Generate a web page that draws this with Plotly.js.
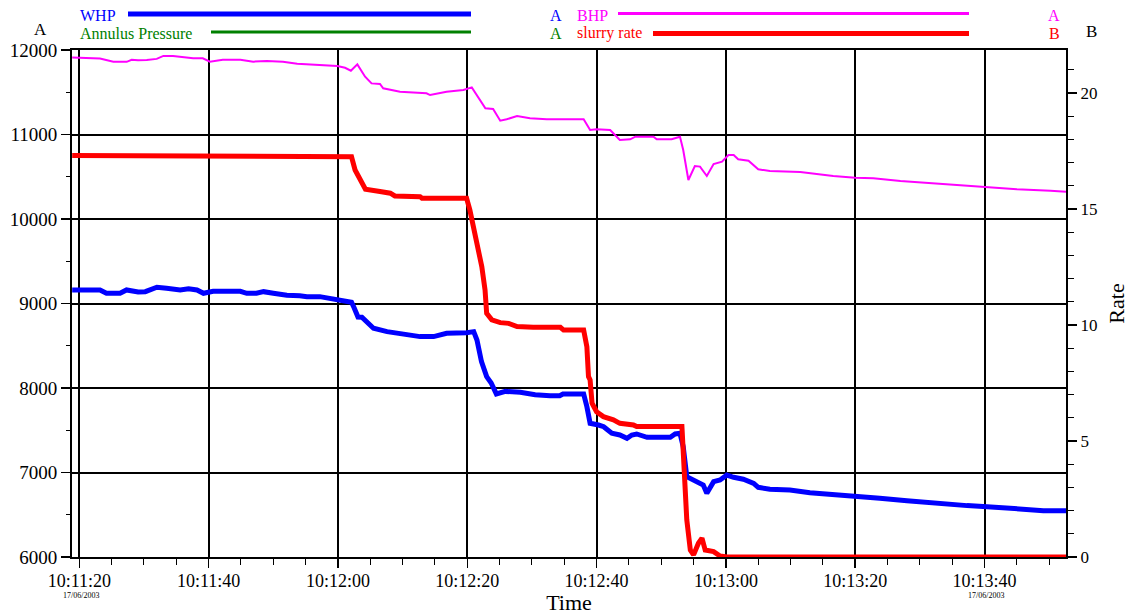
<!DOCTYPE html>
<html>
<head>
<meta charset="utf-8">
<script src="https://cdn.plot.ly/plotly-3.0.1.min.js"></script>
<style>
  html, body { margin: 0; padding: 0; background: #fff; }
  #chart { width: 1130px; height: 615px; }
</style>
</head>
<body>
<div id="chart"></div>
<script>
// Job date and the clock origin for the elapsed-second columns below
const jobDate = '2003-06-17';
const baseHour = 10, baseMinute = 11;

// WHP (psi, axis A): seconds after 10:11:00 and pressure
const whpSec = [18.9, 23.2, 24.2, 26.3, 27.3, 29.1, 30.2, 32.0, 33.5, 35.6, 36.9, 38.2, 39.2, 40.7, 44.9, 45.9, 47.4, 48.5, 50.0, 52.1, 54.1, 55.2, 57.2, 58.3, 59.8, 60.8, 62.1, 62.5, 63.1, 63.7, 65.5, 67.6, 69.6, 72.7, 74.8, 76.8, 79.9, 81.0, 81.5, 82.2, 83.0, 83.7, 84.5, 85.9, 88.2, 90.5, 92.8, 94.3, 94.8, 98.0, 98.5, 99.0, 100.3, 101.1, 102.35, 103.6, 104.7, 105.45, 106.2, 107.8, 111.4, 112.15, 112.9, 113.4, 113.95, 115.5, 116.5, 117.05, 118.1, 119.1, 120.15, 121.2, 122.7, 124.3, 125.0, 126.8, 129.9, 133.0, 136.6, 140.0, 143.8, 148.0, 152.1, 157.3, 160.4, 165.0, 169.1, 172.6];
const whpVal = [9160, 9160, 9121, 9121, 9160, 9136, 9140, 9192, 9180, 9160, 9175, 9160, 9121, 9144, 9144, 9121, 9121, 9140, 9121, 9097, 9092, 9081, 9081, 9065, 9042, 9022, 9015, 8950, 8840, 8837, 8707, 8667, 8647, 8608, 8608, 8647, 8655, 8667, 8568, 8312, 8134, 8060, 7930, 7960, 7950, 7920, 7909, 7909, 7929, 7929, 7779, 7582, 7562, 7542, 7464, 7444, 7405, 7444, 7456, 7417, 7417, 7456, 7464, 7306, 6951, 6892, 6852, 6754, 6892, 6911, 6970, 6943, 6920, 6872, 6825, 6801, 6793, 6761, 6742, 6714, 6695, 6667, 6636, 6608, 6596, 6568, 6548, 6548];

// BHP (psi, axis A)
const bhpSec = [18.9, 23.2, 25.26, 27.33, 28.1, 29.08, 30.43, 31.97, 33.0, 34.5, 37.6, 39.1, 40.2, 42.2, 44.9, 46.9, 49.0, 51.5, 53.7, 56.8, 59.9, 61.1, 62.0, 63.0, 64.2, 65.2, 66.5, 67.0, 69.6, 73.7, 74.25, 76.8, 79.4, 80.7, 81.5, 82.8, 84.0, 85.1, 86.1, 87.7, 89.7, 92.3, 98.0, 99.0, 100.0, 102.1, 103.6, 105.2, 106.0, 108.8, 109.3, 111.6, 112.9, 113.4, 114.2, 115.2, 116.0, 117.05, 118.1, 119.4, 120.4, 121.2, 121.9, 123.5, 125.0, 126.8, 131.5, 136.6, 140.0, 142.8, 147.0, 152.1, 157.3, 160.1, 165.0, 170.2, 172.6];
const bhpVal = [11910, 11900, 11860, 11860, 11885, 11878, 11882, 11895, 11930, 11930, 11902, 11902, 11862, 11885, 11885, 11862, 11870, 11862, 11838, 11822, 11810, 11790, 11755, 11830, 11684, 11605, 11598, 11547, 11507, 11487, 11467, 11507, 11527, 11558, 11467, 11310, 11302, 11163, 11180, 11219, 11192, 11180, 11180, 11053, 11061, 11053, 10935, 10943, 10974, 10974, 10943, 10943, 10974, 10817, 10462, 10627, 10620, 10509, 10651, 10678, 10757, 10757, 10706, 10690, 10588, 10568, 10556, 10509, 10489, 10482, 10450, 10423, 10391, 10375, 10352, 10335, 10323];

// Slurry rate (axis B)
const rateSec = [18.9, 61.1, 62.1, 62.65, 63.5, 64.25, 66.5, 68.1, 68.8, 72.7, 73.0, 79.9, 80.4, 80.95, 81.7, 82.25, 82.75, 83.0, 83.8, 85.1, 86.4, 87.7, 90.2, 94.4, 94.9, 98.0, 98.5, 98.75, 99.0, 99.3, 100.0, 101.05, 102.6, 103.6, 105.7, 106.2, 113.2, 113.4, 113.7, 113.95, 114.5, 115.0, 115.75, 116.3, 116.8, 118.1, 119.1, 120.2, 172.6];
const rateVal = [17.3, 17.28, 17.25, 16.68, 16.18, 15.85, 15.75, 15.68, 15.56, 15.53, 15.46, 15.46, 14.96, 14.24, 13.37, 12.51, 11.51, 10.5, 10.22, 10.1, 10.07, 9.93, 9.9, 9.9, 9.78, 9.78, 9.06, 7.77, 7.63, 6.63, 6.26, 6.05, 5.91, 5.76, 5.69, 5.62, 5.62, 4.75, 3.32, 1.6, 0.3, 0.09, 0.59, 0.81, 0.3, 0.23, 0.04, 0, 0];

// Axis extents
const timeStartSec = 18.87, timeEndSec = 172.6;
const pressureRange = [6000, 12000];
const rateRange = [0, 21.85];

function pad(n, w) { let s = String(n); while (s.length < w) s = '0' + s; return s; }
function stamp(sec) {
  const m = baseMinute + Math.floor(sec / 60);
  const s = sec - 60 * Math.floor(sec / 60);
  const whole = Math.floor(s);
  const frac = Math.round((s - whole) * 1000);
  return jobDate + ' ' + pad(baseHour, 2) + ':' + pad(m, 2) + ':' + pad(whole, 2) + '.' + pad(frac, 3);
}

const serif = 'Liberation Serif, Times New Roman, serif';

const traces = [
  { x: bhpSec.map(stamp), y: bhpVal, type: 'scatter', mode: 'lines', name: 'BHP',
    line: { color: '#ff00ff', width: 2 }, yaxis: 'y' },
  { x: whpSec.map(stamp), y: whpVal, type: 'scatter', mode: 'lines', name: 'WHP',
    line: { color: '#0000ff', width: 5 }, yaxis: 'y' },
  { x: rateSec.map(stamp), y: rateVal, type: 'scatter', mode: 'lines', name: 'slurry rate',
    line: { color: '#ff0000', width: 5 }, yaxis: 'y2' }
];

// Header key: text labels plus sample strokes
function label(text, x, y, color, size, anchor) {
  return { text: text, x: x, y: y, xref: 'paper', yref: 'paper', xanchor: anchor || 'left', yanchor: 'middle',
           showarrow: false, font: { family: serif, size: size || 16, color: color } };
}
// paper coordinates: plot spans x 72..1066 px and y 50..557 px
const px = v => (v - 72) / (1066 - 72);
const py = v => (557 - v) / (557 - 50);

const annotations = [
  label('WHP', px(78), py(15), '#0000ff'),
  label('Annulus Pressure', px(78), py(33), '#008000'),
  label('A', px(556), py(15), '#0000ff', 16, 'center'),
  label('A', px(556), py(33), '#008000', 16, 'center'),
  label('BHP', px(575), py(15), '#ff00ff'),
  label('slurry rate', px(575), py(33), '#ff0000'),
  label('A', px(1054), py(15), '#ff00ff', 16, 'center'),
  label('B', px(1054), py(33), '#ff0000', 16, 'center'),
  label('A', px(40), py(29), '#000000', 17, 'center'),
  label('B', px(1091), py(31), '#000000', 17, 'center'),
  label('17/06/2003', px(81), py(595), '#000000', 8, 'center'),
  label('17/06/2003', px(986), py(595), '#000000', 8, 'center')
];

function stroke(x0, x1, y, color, w) {
  return { type: 'line', xref: 'paper', yref: 'paper', x0: px(x0), x1: px(x1), y0: py(y), y1: py(y),
           line: { color: color, width: w } };
}
const shapes = [
  stroke(128, 471, 14, '#0000ff', 5),
  stroke(211, 471, 32, '#008000', 3),
  stroke(618, 969, 13.5, '#ff00ff', 3),
  stroke(653, 969, 33.5, '#ff0000', 5)
];

const layout = {
  width: 1130, height: 615,
  margin: { l: 72, r: 64, t: 50, b: 58 },
  paper_bgcolor: '#ffffff', plot_bgcolor: '#ffffff',
  showlegend: false,
  font: { family: serif, size: 18, color: '#000' },
  xaxis: {
    type: 'date',
    range: [stamp(timeStartSec), stamp(timeEndSec)],
    tick0: jobDate + ' 10:11:20', dtick: 20000, tickformat: '%H:%M:%S',
    ticks: 'outside', ticklen: 9, tickwidth: 1.5, tickcolor: '#000',
    ticklabelstandoff: -3,
    minor: { dtick: 5000, ticks: 'outside', ticklen: 6, tickwidth: 1, tickcolor: '#000', showgrid: false },
    showgrid: true, gridcolor: '#000', gridwidth: 2,
    showline: true, linecolor: '#000', linewidth: 2, mirror: true,
    zeroline: false,
    tickfont: { family: serif, size: 18 },
    title: { text: 'Time', font: { family: serif, size: 22 }, standoff: 11 }
  },
  yaxis: {
    range: pressureRange, dtick: 1000, tick0: 6000, tickformat: 'd',
    ticks: 'outside', ticklen: 9, tickwidth: 1.5, tickcolor: '#000',
    minor: { dtick: 500, ticks: 'outside', ticklen: 4, tickwidth: 1, tickcolor: '#000', showgrid: false },
    showgrid: true, gridcolor: '#000', gridwidth: 2,
    showline: true, linecolor: '#000', linewidth: 2,
    zeroline: false,
    tickfont: { family: serif, size: 19 }
  },
  yaxis2: {
    overlaying: 'y', side: 'right',
    range: rateRange, dtick: 5, tick0: 0,
    ticks: 'outside', ticklen: 9, tickwidth: 1.5, tickcolor: '#000',
    minor: { dtick: 1, ticks: 'outside', ticklen: 6, tickwidth: 1, tickcolor: '#000', showgrid: false },
    showgrid: false, showline: true, linecolor: '#000', linewidth: 2,
    zeroline: false,
    tickfont: { family: serif, size: 17 },
    title: { text: 'Rate', font: { family: serif, size: 22 }, standoff: 12 }
  },
  annotations: annotations,
  shapes: shapes
};

Plotly.newPlot('chart', traces, layout, { displayModeBar: false, staticPlot: true });
</script>
</body>
</html>
